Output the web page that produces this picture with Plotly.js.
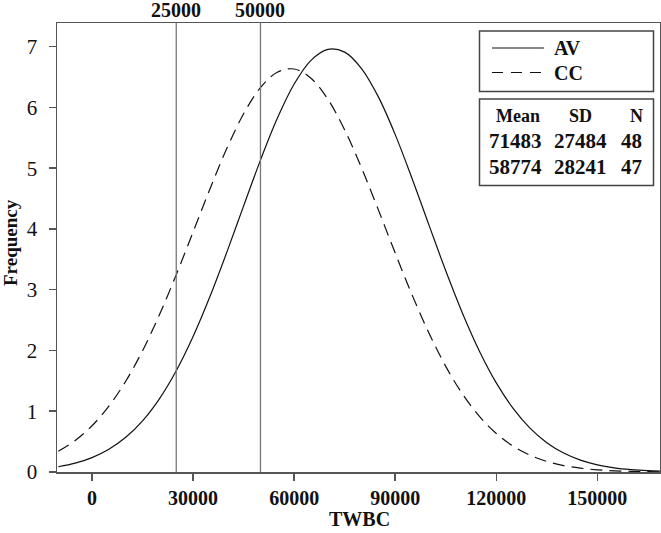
<!DOCTYPE html>
<html>
<head>
<meta charset="utf-8">
<script src="https://cdn.plot.ly/plotly-3.0.1.min.js"></script>
<style>html,body{margin:0;padding:0;background:#fff;}#chart{width:661px;height:533px;}</style>
</head>
<body>
<div id="chart"></div>
<script>
// TWBC values (x positions of the curve samples)
var twbc = [-10000,-5000,0,5000,10000,15000,20000,25000,30000,35000,40000,45000,50000,55000,60000,65000,70000,75000,80000,85000,90000,95000,100000,105000,110000,115000,120000,125000,130000,135000,140000,145000,150000,155000,160000,165000,170000];
var freqAV = [0.086,0.145,0.237,0.374,0.571,0.843,1.205,1.667,2.230,2.887,3.615,4.380,5.133,5.821,6.385,6.776,6.957,6.911,6.641,6.174,5.553,4.831,4.067,3.312,2.610,1.989,1.467,1.047,0.722,0.482,0.312,0.195,0.118,0.069,0.039,0.021,0.011];
var freqCC = [0.342,0.519,0.761,1.084,1.494,1.997,2.587,3.248,3.951,4.659,5.323,5.895,6.327,6.580,6.633,6.480,6.135,5.629,5.006,4.314,3.603,2.916,2.288,1.739,1.281,0.915,0.633,0.425,0.276,0.174,0.106,0.063,0.036,0.020,0.011,0.006,0.003];
var groups = ['AV','CC'];
var xTicks = [0,30000,60000,90000,120000,150000];
var yTicks = [0,1,2,3,4,5,6,7];
var cutoffs = [25000,50000];
var statHeader = ['Mean','SD','N'];
var statAV = ['71483','27484','48'];
var statCC = ['58774','28241','47'];
var xTitle = 'TWBC';
var yTitle = 'Frequency';

var F = 'Liberation Serif, Times New Roman, serif';
var L = 57, R = 660, T = 23, B = 472;
function px(x){ return (x - L) / (R - L); }
function py(y){ return (B - y) / (B - T); }

var traces = [
  {x: twbc, y: freqAV, name: groups[0], mode: 'lines', line: {color: '#111', width: 1.2, shape: 'spline'}, showlegend: false},
  {x: twbc, y: freqCC, name: groups[1], mode: 'lines', line: {color: '#111', width: 1.2, dash: '12px,7px', shape: 'spline'}, showlegend: false}
];

var shapes = [];
var annotations = [];
cutoffs.forEach(function(c){
  shapes.push({type: 'line', xref: 'x', yref: 'paper', x0: c, x1: c, y0: 0, y1: 1, line: {color: '#777', width: 1.3}});
  annotations.push({xref: 'x', yref: 'paper', x: c, y: py(10), text: '<b>' + c + '</b>', showarrow: false, font: {family: F, size: 20, color: '#111'}, xanchor: 'center', yanchor: 'middle'});
});

// legend box
shapes.push({type: 'rect', xref: 'paper', yref: 'paper', x0: px(479.5), x1: px(653.5), y0: py(91.5), y1: py(31), line: {color: '#444', width: 1.5}, fillcolor: 'rgba(0,0,0,0)'});
shapes.push({type: 'line', xref: 'paper', yref: 'paper', x0: px(492), x1: px(544), y0: py(48), y1: py(48), line: {color: '#111', width: 1.2}});
shapes.push({type: 'line', xref: 'paper', yref: 'paper', x0: px(492), x1: px(544), y0: py(72.5), y1: py(72.5), line: {color: '#111', width: 1.2, dash: '11px,8px'}});
annotations.push({xref: 'paper', yref: 'paper', x: px(552), y: py(48), text: '<b>' + groups[0] + '</b>', showarrow: false, xanchor: 'left', yanchor: 'middle', font: {family: F, size: 20, color: '#111'}});
annotations.push({xref: 'paper', yref: 'paper', x: px(552), y: py(72.5), text: '<b>' + groups[1] + '</b>', showarrow: false, xanchor: 'left', yanchor: 'middle', font: {family: F, size: 20, color: '#111'}});

// stats box
shapes.push({type: 'rect', xref: 'paper', yref: 'paper', x0: px(479.5), x1: px(653.5), y0: py(185.5), y1: py(99), line: {color: '#444', width: 1.5}, fillcolor: 'rgba(0,0,0,0)'});
var hdrX = [518.3, 580.7, 636];
var valX = [515.7, 580, 631.7];
statHeader.forEach(function(h, i){
  annotations.push({xref: 'paper', yref: 'paper', x: px(hdrX[i]), y: py(116), text: '<b>' + h + '</b>', showarrow: false, xanchor: 'center', yanchor: 'middle', font: {family: F, size: 18, color: '#111'}});
});
[statAV, statCC].forEach(function(row, r){
  row.forEach(function(v, i){
    annotations.push({xref: 'paper', yref: 'paper', x: px(valX[i]), y: py(141.3 + r * 25.4), text: '<b>' + v + '</b>', showarrow: false, xanchor: 'center', yanchor: 'middle', font: {family: F, size: 21, color: '#111'}});
  });
});

// axis titles
annotations.push({xref: 'paper', yref: 'paper', x: px(359), y: py(519), text: '<b>' + xTitle + '</b>', showarrow: false, xanchor: 'center', yanchor: 'middle', font: {family: F, size: 20, color: '#111'}});
annotations.push({xref: 'paper', yref: 'paper', x: px(10), y: py(242), text: '<b>' + yTitle + '</b>', textangle: -90, showarrow: false, xanchor: 'center', yanchor: 'middle', font: {family: F, size: 19, color: '#111'}});

var layout = {
  width: 661, height: 533,
  margin: {l: L, r: 661 - R, t: T, b: 533 - B},
  paper_bgcolor: '#fff', plot_bgcolor: '#fff',
  showlegend: false,
  xaxis: {
    range: [-10400, 168600],
    tickvals: xTicks, ticktext: xTicks.map(function(v){ return '<b>' + v + '</b>'; }),
    ticks: 'outside', ticklen: 7, tickwidth: 1.5, tickcolor: '#555',
    showline: true, linecolor: '#555', linewidth: 1.5, mirror: true,
    showgrid: false, zeroline: false,
    tickfont: {family: F, size: 20, color: '#111'},
    ticklabelstandoff: 0
  },
  yaxis: {
    range: [0, 7.39],
    tickvals: yTicks,
    ticks: 'outside', ticklen: 7, tickwidth: 1.5, tickcolor: '#555',
    showline: true, linecolor: '#555', linewidth: 1.5, mirror: true,
    showgrid: false, zeroline: false,
    tickfont: {family: F, size: 21, color: '#111'},
    ticklabelstandoff: 7
  },
  shapes: shapes,
  annotations: annotations
};

Plotly.newPlot('chart', traces, layout, {displayModeBar: false, staticPlot: true});
</script>
</body>
</html>
